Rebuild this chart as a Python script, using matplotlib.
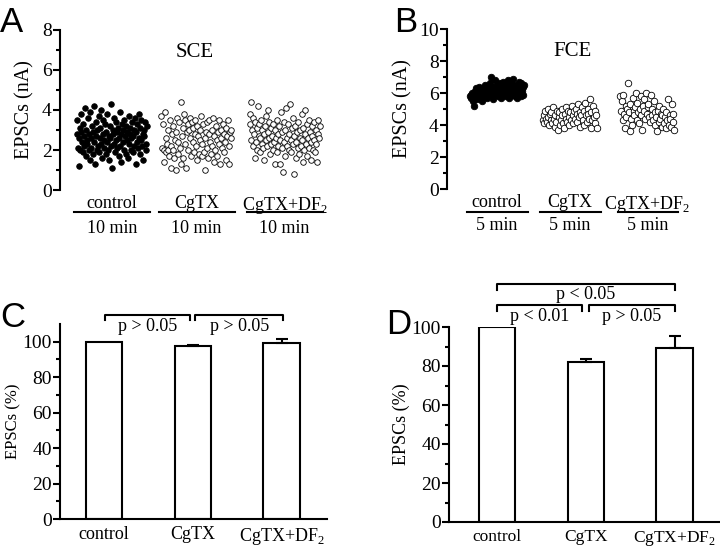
import matplotlib
matplotlib.use("Agg")
import matplotlib.pyplot as plt
import matplotlib.transforms as mtransforms
import numpy as np

plt.rcParams["font.family"] = ["Liberation Serif", "DejaVu Serif"]
plt.rcParams["mathtext.fontset"] = "custom"
plt.rcParams["mathtext.rm"] = "Liberation Serif"

groups = ["control", "CgTX", "CgTX+DF$_2$"]

# panel A (SCE), EPSC amplitude per sweep, nA
sce_control = [
    2.8, 3.5, 2.1, 1.2, 2.6, 3.1, 2.0, 2.9, 3.8, 2.4,
    1.9, 3.3, 2.7, 2.2, 4.1, 1.7, 3.0, 2.5, 2.3, 3.6,
    2.0, 2.8, 1.5, 3.9, 2.6, 2.1, 3.2, 1.8, 2.9, 4.2,
    2.4, 1.3, 3.4, 2.7, 2.0, 3.0, 2.2, 3.7, 1.9, 2.6,
    3.1, 2.3, 4.0, 1.6, 2.8, 3.5, 2.1, 2.5, 3.3, 1.8,
    2.9, 2.4, 3.8, 2.0, 2.7, 1.5, 3.2, 2.6, 2.2, 4.3,
    1.1, 2.8, 3.0, 2.3, 3.6, 1.9, 2.5, 3.4, 2.1, 2.9,
    3.1, 1.7, 2.6, 3.9, 2.2, 2.8, 1.4, 3.3, 2.4, 3.0,
    2.0, 3.5, 2.7, 1.8, 3.2, 2.5, 2.9, 1.6, 3.7, 2.3,
    2.8, 3.1, 2.0, 2.6, 3.4, 1.9, 2.7, 3.0, 2.2, 3.6,
    1.3, 2.9, 3.3, 2.4, 2.1, 3.8, 2.6, 1.8, 3.1, 2.5,
    3.5, 2.2, 2.8, 1.5, 3.0, 2.7, 3.4, 2.3, 2.0, 3.2,
]
sce_cgtx = [
    3.7, 2.1, 3.3, 1.4, 2.0, 3.9, 2.6, 1.9, 2.3, 3.0,
    2.0, 1.7, 3.5, 2.2, 1.1, 2.8, 2.0, 3.2, 1.6, 2.5,
    1.0, 2.9, 3.6, 1.8, 2.4, 3.4, 2.1, 1.3, 4.4, 2.7,
    3.1, 1.6, 3.8, 2.3, 3.5, 1.1, 2.9, 3.3, 2.0, 3.0,
    2.6, 3.6, 1.7, 3.4, 2.4, 3.1, 1.9, 2.8, 3.5, 2.2,
    1.5, 3.2, 2.7, 1.8, 3.0, 2.5, 3.7, 1.7, 2.3, 3.3,
    1.9, 2.6, 1.0, 2.9, 3.4, 2.1, 1.6, 2.8, 3.5, 2.4,
    1.8, 3.0, 2.2, 3.6, 1.4, 2.7, 2.0, 3.2, 2.5, 1.7,
    2.9, 3.5, 2.3, 1.3, 2.6, 3.0, 2.1, 3.3, 2.8, 1.9,
    2.4, 3.1, 1.5, 2.7, 3.5, 2.2, 1.3, 2.9, 3.0, 2.6,
]
sce_df2 = [
    3.8, 3.3, 2.5, 4.4, 3.0, 2.2, 3.6, 2.8, 1.6, 3.4,
    2.4, 3.1, 2.0, 4.2, 2.7, 3.3, 1.9, 2.6, 3.5, 2.3,
    3.0, 2.1, 2.8, 1.5, 3.2, 2.5, 3.7, 2.2, 2.9, 4.0,
    2.6, 3.4, 1.8, 2.3, 3.1, 2.7, 2.0, 3.3, 2.4, 1.3,
    3.0, 2.6, 3.5, 1.9, 2.8, 2.2, 3.2, 1.3, 2.5, 3.9,
    2.1, 2.9, 0.9, 3.4, 2.4, 3.0, 1.7, 4.1, 2.6, 2.2,
    3.3, 2.0, 2.8, 4.3, 2.5, 1.9, 3.1, 2.3, 3.6, 0.8,
    2.7, 3.2, 1.6, 2.4, 2.9, 3.4, 2.1, 1.8, 3.0, 2.6,
    2.2, 3.8, 2.5, 1.4, 3.1, 2.0, 2.8, 4.0, 2.3, 3.3,
    1.7, 2.6, 3.5, 2.1, 2.9, 2.4, 1.5, 3.2, 2.7, 2.0,
    3.4, 2.5, 1.9, 3.0, 2.3, 1.4, 2.8, 3.5, 2.6, 3.2,
]

# panel B (FCE), nA
fce_control = [
    5.8, 5.9, 5.7, 6.0, 5.5, 5.9, 5.2, 6.1, 5.8, 6.3,
    5.6, 6.0, 5.9, 6.4, 5.7, 6.2, 5.9, 6.0, 5.5, 6.3,
    6.1, 5.8, 6.5, 6.0, 6.2, 5.7, 6.4, 6.1, 5.9, 6.6,
    6.3, 7.0, 6.0, 5.6, 6.4, 6.2, 6.8, 5.9, 6.1, 6.5,
    6.3, 5.8, 6.0, 6.6, 6.2, 5.7, 6.4, 6.1, 6.7, 5.9,
    6.3, 6.0, 6.5, 5.8, 6.2, 6.8, 6.1, 5.7, 6.4, 6.0,
    6.6, 6.2, 5.9, 6.9, 6.3, 5.8, 6.5, 6.1, 6.4, 5.7,
    6.2, 6.7, 6.0, 6.3, 5.8, 6.6, 6.1, 6.4, 5.9, 6.5,
]
fce_cgtx = [
    4.3, 4.6, 4.1, 4.9, 4.4, 4.2, 5.0, 4.5, 4.0, 4.7,
    4.3, 4.8, 4.1, 5.1, 4.4, 3.9, 4.6, 4.2, 4.9, 3.7,
    4.5, 4.8, 4.0, 4.3, 5.0, 4.6, 4.1, 3.8, 4.7, 4.4,
    5.1, 4.2, 4.9, 4.5, 4.0, 4.8, 4.3, 5.2, 4.6, 4.1,
    4.9, 4.4, 5.0, 4.7, 4.2, 5.3, 4.5, 4.8, 3.9, 4.6,
    5.1, 4.3, 4.9, 4.0, 5.4, 4.6, 4.2, 5.0, 4.7, 4.4,
    5.6, 3.8, 4.8, 4.3, 5.2, 4.5, 4.9, 4.1, 4.6, 3.8,
]
fce_df2 = [
    5.8, 4.9, 5.5, 4.3, 5.9, 4.7, 3.8, 5.2, 4.5, 5.0,
    6.6, 4.8, 3.6, 5.3, 4.4, 4.0, 5.7, 4.9, 4.6, 5.1,
    6.0, 4.3, 5.4, 4.8, 4.1, 5.0, 5.8, 4.6, 3.7, 5.2,
    4.9, 5.6, 4.4, 6.0, 4.7, 5.1, 5.3, 4.5, 4.2, 5.9,
    5.0, 4.6, 4.3, 5.5, 4.0, 4.8, 4.5, 3.6, 4.9, 4.2,
    5.2, 4.4, 4.7, 3.9, 4.6, 5.0, 4.1, 4.5, 4.8, 3.8,
    4.3, 5.6, 4.0, 4.6, 4.4, 3.9, 5.3, 4.2, 4.7, 3.7,
]

# panels C and D, normalised EPSC (%)
sce_mean = [100.0, 97.6, 99.3]
sce_err = [0.0, 0.6, 2.2]
fce_mean = [100.0, 82.0, 89.2]
fce_err = [0.0, 1.5, 6.2]

LW = 1.5


def style_axis(ax, ticksize=14, xsize=13):
    for s in ["top", "right"]:
        ax.spines[s].set_visible(False)
    ax.spines["left"].set_linewidth(LW)
    ax.spines["bottom"].set_linewidth(LW)
    ax.tick_params(axis="y", which="major", direction="out", length=5, width=LW,
                   labelsize=ticksize, pad=1)
    ax.tick_params(axis="y", which="minor", direction="out", length=3, width=LW)
    ax.tick_params(axis="x", length=0, labelsize=xsize, pad=5)


def scatter_panel(ax, series, fills, offsets, duration, ymax, title, title_x,
                  span_label, size, rows):
    style_axis(ax)
    ax.spines["bottom"].set_visible(False)
    ax.set_xticks([])
    for y, filled, x0 in zip(series, fills, offsets):
        t = x0 + np.linspace(0, duration, len(y))
        ax.scatter(t, y, s=size, marker="o",
                   facecolor="black" if filled else "white",
                   edgecolor="black", linewidths=0.6, zorder=3)
    ax.set_ylim(0, ymax)
    ax.text(title_x, 0.86, title, transform=ax.transAxes, ha="center", va="center", fontsize=15)
    ax.set_ylabel("EPSCs (nA)", fontsize=14.5, labelpad=5)
    trans = mtransforms.blended_transform_factory(ax.transData, ax.transAxes)
    y_name, y_line, y_span = rows
    for name, x0 in zip(groups, offsets):
        xc = x0 + duration / 2
        ax.text(xc, y_name, name, transform=trans, ha="center", va="top", fontsize=13)
        ax.plot([x0 - 0.35, x0 + duration + 0.5], [y_line, y_line], color="black",
                lw=LW, transform=trans, clip_on=False)
        ax.text(xc, y_span, span_label, transform=trans, ha="center", va="top", fontsize=13)


def bar_panel(ax, means, errs, ymax, label_size, xsize):
    style_axis(ax, xsize=xsize)
    x = np.arange(len(groups))
    ax.bar(x, means, width=0.41, color="white", edgecolor="black", linewidth=LW, zorder=2)
    for xi, m, e in zip(x, means, errs):
        if e > 0:
            ax.errorbar(xi, m, yerr=[[0], [e]], fmt="none", ecolor="black",
                        elinewidth=LW, capsize=4, capthick=LW, zorder=3)
    ax.set_xticks(x)
    ax.set_xticklabels(groups)
    ax.set_ylim(0, ymax)
    ax.set_yticks(np.arange(0, 101, 20))
    ax.set_yticks(np.arange(10, 101, 10), minor=True)
    ax.set_ylabel("EPSCs (%)", fontsize=label_size, labelpad=1)


def bracket(ax, x1, x2, y, drop, label, text_y):
    ax.plot([x1, x1, x2, x2], [y - drop, y, y, y - drop], color="black", lw=LW, clip_on=False)
    ax.text((x1 + x2) / 2, text_y, label, ha="center", va="center", fontsize=13, clip_on=False)


fig = plt.figure(figsize=(7.2, 5.48), dpi=100)

# panel A
axA = fig.add_axes([60 / 720, 1 - 190 / 548, 270 / 720, 160 / 548])
scatter_panel(axA, [sce_control, sce_cgtx, sce_df2], [True, False, False],
              [0.0, 12.1, 24.7], 10.0, 8, "SCE", 0.5, "10 min", 16,
              (-0.03, -0.14, -0.19))
axA.set_xlim(-2.4, 36.2)
axA.set_yticks(np.arange(0, 9, 2))
axA.set_yticks(np.arange(1, 9, 2), minor=True)

# panel B
axB = fig.add_axes([447 / 720, 1 - 189 / 548, 240 / 720, 160 / 548])
scatter_panel(axB, [fce_control, fce_cgtx, fce_df2], [True, False, False],
              [0.0, 9.7, 20.0], 7.2, 10, "FCE", 0.525, "5 min", 22,
              (-0.03, -0.144, -0.175))
axB.set_xlim(-3.07, 28.9)
axB.set_yticks(np.arange(0, 11, 2))
axB.set_yticks(np.arange(1, 11, 2), minor=True)

# panel C
axC = fig.add_axes([60 / 720, 1 - 519 / 548, 267 / 720, 195 / 548])
bar_panel(axC, sce_mean, sce_err, 110, 12, 13)
axC.set_xlim(-0.494, 2.51)
bracket(axC, 0.01, 0.97, 115.1, 2.8, "p > 0.05", 108.5)
bracket(axC, 1.03, 2.02, 115.1, 2.8, "p > 0.05", 108.5)

# panel D
axD = fig.add_axes([449 / 720, 1 - 522 / 548, 271 / 720, 195 / 548])
bar_panel(axD, fce_mean, fce_err, 100, 13, 12.5)
axD.set_xlim(-0.54, 2.51)
bracket(axD, 0.0, 0.96, 111.3, 3.3, "p < 0.01", 105.4)
bracket(axD, 1.04, 2.0, 111.3, 3.3, "p > 0.05", 105.4)
bracket(axD, 0.0, 2.0, 122.1, 3.3, "p < 0.05", 116.6)

for letter, (lx, ly) in zip("ABCD", [(0, 6), (394, 6), (0, 301), (386, 308)]):
    fig.text(lx / 720, 1 - ly / 548, letter, ha="left", va="top",
             fontsize=25, family=["Liberation Sans", "DejaVu Sans"])

fig.savefig("out.png", dpi=100)
